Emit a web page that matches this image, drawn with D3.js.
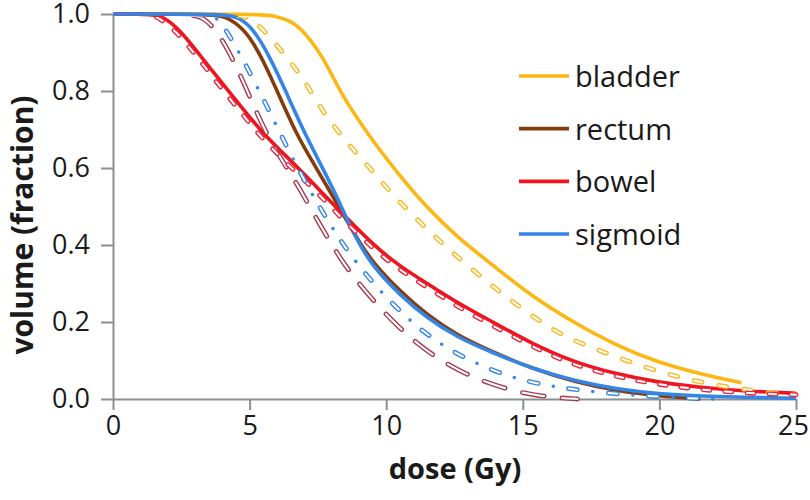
<!DOCTYPE html>
<html>
<head>
<meta charset="utf-8">
<script src="https://cdn.jsdelivr.net/npm/d3@7"></script>
<style>
  html, body { margin: 0; padding: 0; background: #fff; }
  svg { display: block; font-family: "Open Sans", sans-serif; }
</style>
</head>
<body>
<svg id="chart" width="810" height="500"></svg>
<script>
// ---------- data ----------
const xTicks = [0, 5, 10, 15, 20, 25];
const yTicks = [0, 0.2, 0.4, 0.6, 0.8, 1.0];
const xTitle = "dose (Gy)";
const yTitle = "volume (fraction)";
const legendNames = ["bladder", "rectum", "bowel", "sigmoid"];

// solid curves
const bladderDose = [0, 5.4, 5.9, 6.4, 6.85, 7.58, 8.06, 8.42, 9.5, 10.5, 11.4, 12.6, 13.9, 15.3, 16.9, 18.4, 19.9, 21.5, 23.0];
const bladderVol  = [1, 1, 0.995, 0.985, 0.966, 0.90, 0.836, 0.784, 0.67, 0.58, 0.504, 0.42, 0.348, 0.268, 0.197, 0.14, 0.096, 0.065, 0.042];

const rectumDose = [0, 3.8, 4.2, 4.87, 5.5, 6.1, 6.7, 7.33, 8.06, 8.5, 9.0, 9.5, 10.5, 11.5, 12.6, 13.9, 15.3, 16.9, 18.5, 20, 21.5];
const rectumVol  = [1, 1, 0.99, 0.958, 0.88, 0.785, 0.69, 0.613, 0.525, 0.47, 0.41, 0.355, 0.28, 0.218, 0.165, 0.122, 0.08, 0.044, 0.02, 0.008, 0.0];

const bowelDose = [0, 1.5, 1.9, 2.45, 3.04, 3.66, 4.28, 4.87, 5.5, 6.1, 6.85, 7.8, 8.42, 9.6, 10.5, 11.5, 12.6, 13.9, 15.3, 16.85, 18.4, 19.9, 21.5, 23.2, 25];
const bowelVol  = [1, 1, 0.99, 0.958, 0.906, 0.85, 0.795, 0.743, 0.69, 0.647, 0.595, 0.525, 0.48, 0.395, 0.345, 0.30, 0.25, 0.2, 0.145, 0.096, 0.065, 0.044, 0.03, 0.02, 0.015];

const sigmoidDose = [0, 4.2, 4.6, 5.1, 5.75, 6.35, 6.95, 7.6, 8.2, 8.6, 9.0, 9.5, 10.5, 11.5, 12.6, 13.9, 15.3, 16.9, 18.5, 20, 22, 25];
const sigmoidVol  = [1, 1, 0.99, 0.966, 0.888, 0.795, 0.70, 0.61, 0.525, 0.46, 0.405, 0.345, 0.27, 0.21, 0.16, 0.12, 0.08, 0.047, 0.025, 0.013, 0.006, 0.002];

// dashed (hollow) curves
const bladderDashDose = [0, 4.6, 5.0, 5.5, 6.1, 6.67, 7.15, 7.6, 8.17, 8.8, 9.4, 10.0, 10.7, 11.97, 13.3, 14.76, 16.2, 17.1, 18.9, 20.6, 22.4, 24.2, 25];
const bladderDashVol  = [1, 1, 0.99, 0.96, 0.91, 0.86, 0.81, 0.756, 0.70, 0.647, 0.60, 0.55, 0.496, 0.408, 0.327, 0.244, 0.174, 0.145, 0.096, 0.057, 0.031, 0.015, 0.012];

const rectumDashDose = [0, 2.9, 3.3, 3.7, 4.2, 4.8, 5.4, 6.0, 6.6, 7.2, 7.8, 8.4, 9.0, 9.6, 10.4, 11.2, 12.0, 12.9, 13.8, 14.7, 15.6, 16.5, 17];
const rectumDashVol  = [1, 1, 0.99, 0.965, 0.91, 0.82, 0.72, 0.64, 0.575, 0.50, 0.425, 0.356, 0.30, 0.25, 0.19, 0.14, 0.10, 0.065, 0.04, 0.02, 0.008, 0.002, 0];

const bowelDashDose = [0, 1.3, 1.7, 2.3, 2.9, 3.5, 4.1, 4.7, 5.3, 5.9, 6.6, 7.5, 8.42, 9.6, 10.5, 11.5, 12.6, 13.9, 15.3, 16.85, 18.4, 19.9, 21.5, 23.2, 25];
const bowelDashVol  = [1, 1, 0.99, 0.955, 0.905, 0.85, 0.795, 0.743, 0.69, 0.645, 0.595, 0.535, 0.465, 0.385, 0.335, 0.29, 0.24, 0.19, 0.137, 0.088, 0.058, 0.038, 0.024, 0.015, 0.011];

const sigmoidDashDose = [0, 3.5, 3.8, 4.2, 4.87, 5.57, 6.15, 6.85, 7.58, 8.3, 9.16, 10.15, 11.17, 12.3, 13.66, 15.0, 16.4, 17.9, 19.5, 21, 22];
const sigmoidDashVol  = [1, 1, 0.99, 0.953, 0.867, 0.77, 0.685, 0.587, 0.496, 0.413, 0.33, 0.252, 0.184, 0.127, 0.08, 0.047, 0.029, 0.016, 0.008, 0.002, 0];

// ---------- setup ----------
const svg = d3.select("#chart");
const x = d3.scaleLinear().domain([0, 25]).range([113, 796]);
const y = d3.scaleLinear().domain([0, 1]).range([399, 14]);
const zip = (a, b) => a.map((d, i) => [d, b[i]]);
const line = d3.line().x(d => x(d[0])).y(d => y(d[1])).curve(d3.curveBasis);

const colors = {
  bladder: "#FDB714",
  rectum: "#843C0C",
  bowel: "#F0141E",
  sigmoid: "#3585E6",
  bladderDash: "#F8B820",
  rectumDash: "#A83A52",
  bowelDash: "#E4283E",
  sigmoidDash: "#3585E6"
};

// ---------- axes ----------
const axisColor = "#8A8F92";
const yAxis = d3.axisLeft(y).tickValues(yTicks).tickFormat(d3.format(".1f"))
  .tickSize(12).tickSizeOuter(0).tickPadding(11);
const xAxis = d3.axisBottom(x).tickValues(xTicks).tickFormat(d3.format("d"))
  .tickSize(11).tickSizeOuter(0).tickPadding(6);

const gx = svg.append("g").attr("transform", `translate(0,${y(0)})`).call(xAxis);
const gy = svg.append("g").attr("transform", `translate(${x(0)},0)`).call(yAxis);
[gx, gy].forEach(g => {
  g.selectAll("path, line").attr("stroke", axisColor).attr("stroke-width", 2);
  g.selectAll("text").attr("fill", "#1a1a1a").style("font-size", "27px")
    .style("font-family", "'Open Sans', sans-serif");
});
gx.selectAll(".tick text").filter(d => d === 25).attr("dx", -3);

// ---------- curves ----------
svg.append("clipPath").attr("id", "dashClip")
  .append("rect").attr("x", 100).attr("y", 17).attr("width", 720).attr("height", 400);

const solids = [
  [zip(bladderDose, bladderVol), colors.bladder],
  [zip(rectumDose, rectumVol), colors.rectum],
  [zip(bowelDose, bowelVol), colors.bowel],
  [zip(sigmoidDose, sigmoidVol), colors.sigmoid]
];
const gLines = svg.append("g");
solids.forEach(([data, c]) => {
  gLines.append("path").attr("d", line(data)).attr("fill", "none")
    .attr("stroke", c).attr("stroke-width", 3.6).attr("stroke-linejoin", "round");
});

const gDash = svg.append("g").attr("clip-path", "url(#dashClip)");
function hollow(data, c, dash, offset) {
  const d = line(data);
  gDash.append("path").attr("d", d).attr("fill", "none").attr("stroke", c)
    .attr("stroke-width", 4.8).attr("stroke-linecap", "round")
    .attr("stroke-dasharray", dash).attr("stroke-dashoffset", offset || 0);
  gDash.append("path").attr("d", d).attr("fill", "none").attr("stroke", "#fff")
    .attr("stroke-width", 2.0).attr("stroke-linecap", "round")
    .attr("stroke-dasharray", dash).attr("stroke-dashoffset", offset || 0);
}
hollow(zip(bladderDashDose, bladderDashVol), colors.bladderDash, "8 17");
hollow(zip(rectumDashDose, rectumDashVol), colors.rectumDash, "22 18");
hollow(zip(bowelDashDose, bowelDashVol), colors.bowelDash, "7 15");
const sigData = zip(sigmoidDashDose, sigmoidDashVol);
hollow(sigData, colors.sigmoidDash, "9 31");
gDash.append("path").attr("d", line(sigData)).attr("fill", "none")
  .attr("stroke", colors.sigmoidDash).attr("stroke-width", 3.6).attr("stroke-linecap", "round")
  .attr("stroke-dasharray", "0 40").attr("stroke-dashoffset", -24.5);

// ---------- legend ----------
const legendColors = [colors.bladder, colors.rectum, colors.bowel, colors.sigmoid];
const legendY = d3.scalePoint().domain(legendNames).range([76, 234]);
const gLeg = svg.append("g");
legendNames.forEach((n, i) => {
  const yy = legendY(n);
  gLeg.append("line").attr("x1", 519).attr("x2", 569).attr("y1", yy).attr("y2", yy)
    .attr("stroke", legendColors[i]).attr("stroke-width", 3.6);
  gLeg.append("text").attr("x", 575).attr("y", yy + 11).text(n)
    .attr("fill", "#1a1a1a").style("font-size", "29px");
});

// ---------- titles ----------
svg.append("text").attr("x", 455).attr("y", 479).attr("text-anchor", "middle")
  .style("font-size", "29px").style("font-weight", "bold").attr("fill", "#1a1a1a").text(xTitle);
svg.append("text").attr("transform", "translate(33,225) rotate(-90)").attr("text-anchor", "middle")
  .style("font-size", "30px").style("font-weight", "bold").attr("fill", "#1a1a1a").text(yTitle);
</script>
</body>
</html>
